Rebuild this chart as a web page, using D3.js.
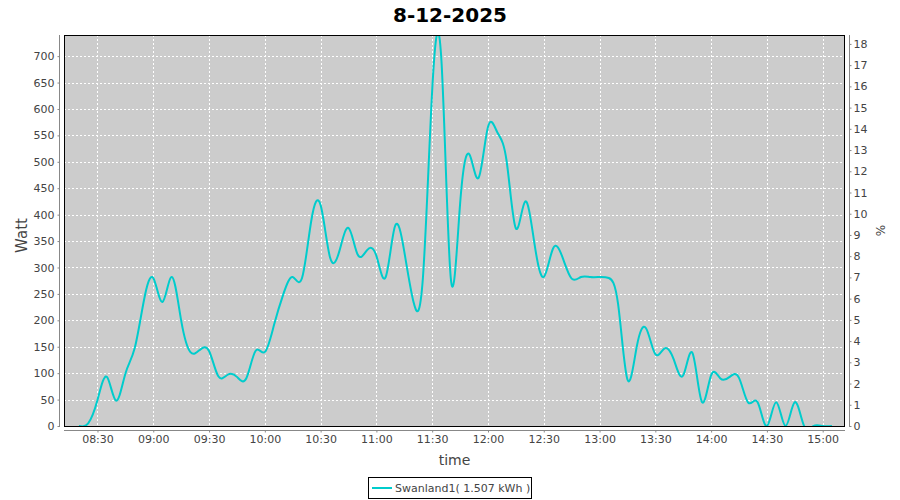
<!DOCTYPE html>
<html><head><meta charset="utf-8">
<script src="https://cdn.jsdelivr.net/npm/d3@7"></script>
<style>body{margin:0;background:#fff} svg{display:block;font-family:"DejaVu Sans",sans-serif}</style>
</head><body><svg id="c" width="900" height="500"></svg>
<script>
const title = "8-12-2025";
const times = ["08:20","08:25","08:30","08:35","08:40","08:45","08:50","08:55",
"09:00","09:05","09:10","09:15","09:20","09:25","09:30","09:35","09:40","09:45","09:50","09:55",
"10:00","10:05","10:10","10:15","10:20","10:25","10:30","10:35","10:40","10:45","10:50","10:55",
"11:00","11:05","11:10","11:15","11:20","11:25","11:30","11:35","11:40","11:45","11:50","11:55",
"12:00","12:05","12:10","12:15","12:20","12:25","12:30","12:35","12:40","12:45","12:50","12:55",
"13:00","13:05","13:10","13:15","13:20","13:25","13:30","13:35","13:40","13:45","13:50","13:55",
"14:00","14:05","14:10","14:15","14:20","14:25","14:30","14:35","14:40","14:45","14:50","14:55",
"15:00","15:05"];
const watts = [0,5,49,93,48,99,147,238,
280,235,282,200,140,144,142,94,97,93,90,142,
140,192,250,282,280,389,418,320,330,375,324,333,
322,282,378,330,234,280,635,690,280,420,514,470,
566,556,502,374,425,345,282,336,320,279,282,282,
282,280,230,88,150,185,136,147,125,96,138,46,
96,90,93,91,44,45,0,45,0,45,0,0,
0,0];
const wattTicks = [0,50,100,150,200,250,300,350,400,450,500,550,600,650,700];
const pctTicks = [0,1,2,3,4,5,6,7,8,9,10,11,12,13,14,15,16,17,18];
const timeTicks = ["08:30","09:00","09:30","10:00","10:30","11:00","11:30","12:00","12:30","13:00","13:30","14:00","14:30","15:00"];
const seriesName = "Swanland1( 1.507 kWh )";

const svg = d3.select("#c");
const L = 64, R = 845, T = 35, B = 426;
const day = "2025-12-08T";
const parse = s => new Date(day + s + ":00");
const x = d3.scaleTime().domain([parse("08:12"), parse("15:12")]).range([L, R]);
const y = d3.scaleLinear().domain([0, 740]).range([B, T]);
const y2 = d3.scaleLinear().domain([0, 18.42]).range([B, T]);

svg.append("rect").attr("x", L).attr("y", T).attr("width", R - L).attr("height", B - T).attr("fill", "#cccccc");

const g = svg.append("g");
g.selectAll(".hg").data(wattTicks).join("line")
  .attr("x1", L).attr("x2", R).attr("y1", d => Math.round(y(d)) + 0.5).attr("y2", d => Math.round(y(d)) + 0.5)
  .attr("stroke", "#fff").attr("stroke-dasharray", "2,2");
g.selectAll(".vg").data(timeTicks).join("line")
  .attr("y1", T).attr("y2", B).attr("x1", d => Math.round(x(parse(d))) + 0.5).attr("x2", d => Math.round(x(parse(d))) + 0.5)
  .attr("stroke", "#fff").attr("stroke-dasharray", "2,2");

svg.append("clipPath").attr("id", "clip").append("rect").attr("x", L).attr("y", T).attr("width", R - L).attr("height", B - T);
const pts = times.map((t, i) => [parse(t), watts[i]]);
const line = d3.line().x(d => x(d[0])).y(d => y(d[1])).curve(d3.curveNatural);
svg.append("path").datum(pts).attr("d", line).attr("fill", "none")
  .attr("stroke", "#00cccc").attr("stroke-width", 2).attr("clip-path", "url(#clip)");

svg.append("rect").attr("x", L + 0.5).attr("y", T + 0.5).attr("width", R - L - 1).attr("height", B - T)
  .attr("fill", "none").attr("stroke", "#000");

const tickCol = "#444";
const leftAxis = d3.axisLeft(y).tickValues(wattTicks).tickSize(2).tickPadding(3);
const la = svg.append("g").attr("transform", `translate(${L - 4.5},0)`).call(leftAxis);
const rightAxis = d3.axisRight(y2).tickValues(pctTicks).tickSize(2).tickPadding(2);
const ra = svg.append("g").attr("transform", `translate(${R + 4.5},0)`).call(rightAxis);
const bottomAxis = d3.axisBottom(x).tickValues(timeTicks.map(parse)).tickFormat(d3.timeFormat("%H:%M")).tickSize(2).tickPadding(3);
const ba = svg.append("g").attr("transform", `translate(0,${B + 4.5})`).call(bottomAxis);
[la, ra, ba].forEach(a => {
  a.selectAll(".domain").attr("stroke", "#888");
  a.selectAll(".tick line").attr("stroke", "#888");
  a.selectAll("text").attr("fill", tickCol).style("font-family", "DejaVu Sans").style("font-size", "11px");
});
la.select(".domain").attr("d", `M-0,${T}V${B+1}`);
ra.select(".domain").attr("d", `M0,${T}V${B+1}`);
ba.select(".domain").attr("d", `M${L},0H${R}`);

svg.append("text").attr("x", 450).attr("y", 22).attr("text-anchor", "middle")
  .style("font-size", "20px").style("font-weight", "bold").attr("fill", "#000").text(title);
svg.append("text").attr("transform", `translate(27,${(T + B) / 2 + 5}) rotate(-90)`).attr("text-anchor", "middle")
  .style("font-size", "15px").attr("fill", "#444").text("Watt");
svg.append("text").attr("transform", `translate(885,${(T + B) / 2}) rotate(-90)`).attr("text-anchor", "middle")
  .style("font-size", "12px").attr("fill", "#444").text("%");
svg.append("text").attr("x", (L + R) / 2).attr("y", 465).attr("text-anchor", "middle")
  .style("font-size", "14px").attr("fill", "#444").text("time");

const lg = svg.append("g");
lg.append("rect").attr("x", 368.5).attr("y", 477.5).attr("width", 163).attr("height", 21).attr("fill", "#fff").attr("stroke", "#000");
lg.append("line").attr("x1", 372).attr("x2", 392).attr("y1", 488).attr("y2", 488).attr("stroke", "#00cccc").attr("stroke-width", 2);
lg.append("text").attr("x", 395).attr("y", 492).style("font-size", "11px").attr("fill", "#444").text(seriesName);
</script></body></html>
